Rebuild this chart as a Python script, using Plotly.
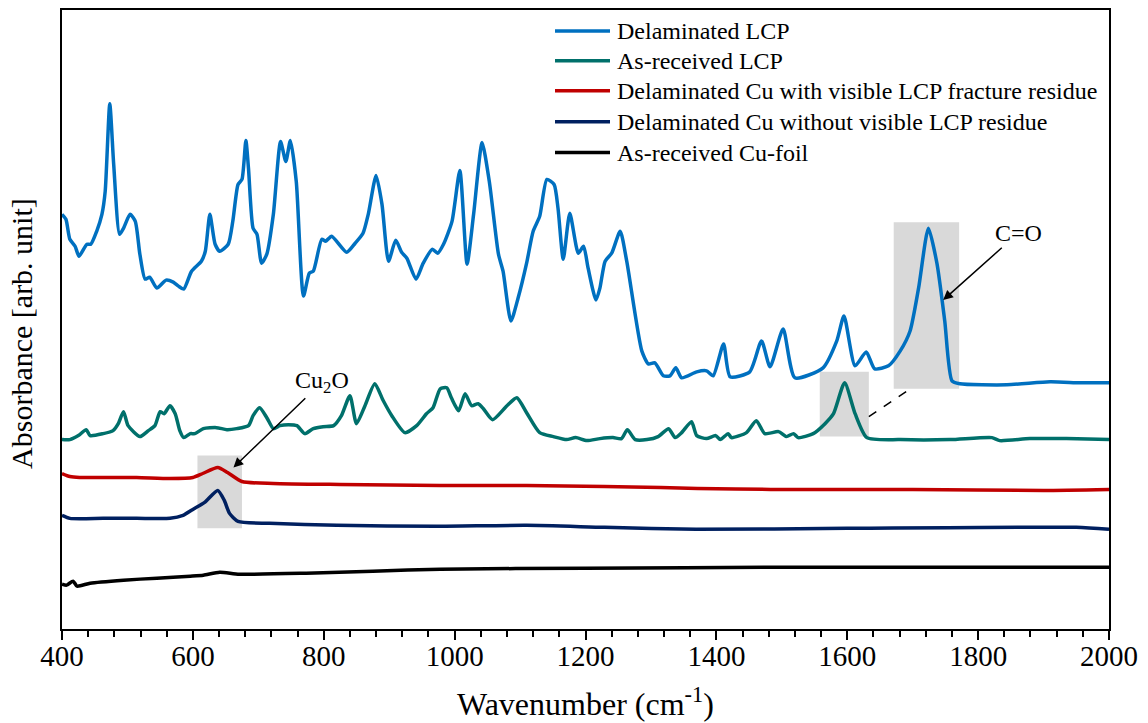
import plotly.graph_objects as go

# ---- spectra (wavenumber in cm-1, absorbance in arbitrary units, stacked) ----
wn_delam_lcp = [400, 406, 412, 420, 426, 438, 444, 453, 461, 466, 473, 479, 488, 494, 504, 512, 519, 527,
                534, 545, 559, 570, 578, 586, 598, 613, 619, 626, 634, 641, 654, 661, 669, 675, 681, 685,
                692, 698, 705, 713, 723, 734, 742, 749, 758, 769, 778, 784, 797, 803, 812, 835, 848, 860,
                868, 880, 889, 899, 910, 919, 927, 941, 952, 966, 974, 983, 996, 1008, 1019, 1029, 1042,
                1053, 1067, 1074, 1086, 1097, 1110, 1120, 1130, 1141, 1152, 1158, 1166, 1176, 1189, 1197,
                1204, 1216, 1222, 1230, 1240, 1253, 1263, 1286, 1296, 1306, 1319, 1329, 1338, 1347, 1370,
                1385, 1395, 1411, 1421, 1451, 1469, 1482, 1502, 1520, 1563, 1584, 1595, 1612, 1629, 1642,
                1663, 1681, 1696, 1709, 1724, 1737, 1749, 1760, 1772, 1844, 1910, 1956, 2000]
ab_delam_lcp = [4.16, 4.11, 3.91, 3.84, 3.74, 3.86, 3.86, 3.99, 4.16, 4.39, 5.27, 4.66, 3.96, 4.02, 4.16,
                4.09, 3.76, 3.51, 3.53, 3.42, 3.50, 3.48, 3.44, 3.41, 3.59, 3.69, 3.79, 4.16, 3.86, 3.79,
                3.86, 4.09, 4.46, 4.51, 4.90, 4.62, 4.02, 3.96, 3.67, 3.76, 4.16, 4.89, 4.69, 4.90, 4.49,
                3.34, 3.57, 3.59, 3.91, 3.89, 3.94, 3.78, 3.87, 3.97, 4.16, 4.55, 4.26, 3.69, 3.90, 3.78,
                3.72, 3.51, 3.67, 3.81, 3.77, 3.86, 4.09, 4.60, 3.66, 4.16, 4.88, 4.49, 3.76, 3.59, 3.09,
                3.32, 3.67, 3.99, 4.14, 4.51, 4.46, 4.22, 3.71, 4.17, 3.77, 3.84, 3.62, 3.30, 3.42, 3.69,
                3.77, 3.99, 3.69, 2.79, 2.66, 2.67, 2.54, 2.54, 2.62, 2.52, 2.58, 2.59, 2.54, 2.86, 2.53,
                2.58, 2.89, 2.63, 3.01, 2.52, 2.62, 2.89, 3.14, 2.64, 2.78, 2.61, 2.64, 2.79, 2.99, 3.42,
                4.02, 3.67, 3.09, 2.49, 2.46, 2.45, 2.48, 2.47, 2.47]

wn_asrec_lcp = [400, 412, 425, 437, 443, 463, 478, 486, 494, 501, 519, 532, 542, 550, 556, 565, 573, 580,
                586, 596, 603, 616, 636, 652, 667, 685, 692, 702, 713, 723, 733, 746, 759, 771, 784, 799,
                815, 827, 840, 850, 863, 878, 891, 904, 924, 942, 957, 967, 978, 988, 995, 1006, 1016,
                1026, 1036, 1044, 1058, 1080, 1095, 1110, 1130, 1151, 1171, 1185, 1202, 1222, 1242, 1255,
                1264, 1276, 1294, 1311, 1327, 1337, 1347, 1362, 1370, 1385, 1399, 1406, 1418, 1423, 1446,
                1461, 1474, 1495, 1507, 1518, 1525, 1548, 1566, 1579, 1596, 1612, 1630, 1681, 1757, 1821,
                1833, 1879, 1935, 2000]
ab_asrec_lcp = [1.90, 1.90, 1.94, 2.00, 1.94, 1.96, 1.99, 2.06, 2.18, 2.04, 1.93, 1.99, 2.04, 2.18, 2.16,
                2.24, 2.16, 1.99, 1.92, 1.96, 1.96, 2.01, 2.02, 2.00, 2.01, 2.04, 2.14, 2.22, 2.12, 2.01,
                2.04, 2.05, 2.04, 1.96, 2.01, 2.03, 2.04, 2.14, 2.34, 2.06, 2.24, 2.46, 2.29, 2.14, 1.97,
                2.04, 2.16, 2.22, 2.41, 2.42, 2.32, 2.19, 2.36, 2.24, 2.26, 2.21, 2.10, 2.24, 2.32, 2.17,
                1.97, 1.93, 1.90, 1.92, 1.89, 1.91, 1.92, 1.91, 2.00, 1.90, 1.90, 1.93, 2.01, 1.92, 1.97,
                2.08, 1.94, 1.91, 1.94, 1.90, 1.96, 1.92, 1.97, 2.09, 1.96, 1.98, 1.93, 1.96, 1.92, 1.96,
                2.06, 2.16, 2.47, 2.16, 1.92, 1.90, 1.90, 1.92, 1.89, 1.91, 1.91, 1.90]

wn_cu_residue = [400, 412, 427, 463, 514, 565, 600, 615, 638, 653, 675, 723, 825, 978, 1110, 1229, 1315,
                 1371, 1483, 1700, 1900, 2000]
ab_cu_residue = [1.56, 1.53, 1.52, 1.52, 1.52, 1.51, 1.52, 1.56, 1.62, 1.57, 1.48, 1.46, 1.45, 1.44,
                 1.44, 1.43, 1.42, 1.41, 1.40, 1.40, 1.39, 1.40]

wn_cu_clean = [400, 412, 463, 514, 565, 585, 600, 618, 638, 648, 656, 669, 717, 820, 972, 1110, 1229,
               1369, 1600, 1950, 2000]
ab_cu_clean = [1.14, 1.11, 1.11, 1.11, 1.11, 1.14, 1.20, 1.27, 1.39, 1.29, 1.16, 1.08, 1.06, 1.04, 1.03,
               1.04, 1.02, 1.00, 1.01, 1.02, 1.00]

wn_cu_foil = [400, 407, 417, 423, 443, 494, 545, 596, 616, 641, 671, 773, 875, 978, 1200, 1500, 1800, 2000]
ab_cu_foil = [0.45, 0.44, 0.48, 0.43, 0.46, 0.49, 0.51, 0.53, 0.54, 0.57, 0.55, 0.56, 0.58, 0.60, 0.61,
              0.62, 0.62, 0.62]

series_names = ["Delaminated LCP", "As-received LCP", "Delaminated Cu with visible LCP fracture residue",
                "Delaminated Cu without visible LCP residue", "As-received Cu-foil"]
series_colors = ["#0070C0", "#00706B", "#C00000", "#002060", "#000000"]
series_x = [wn_delam_lcp, wn_asrec_lcp, wn_cu_residue, wn_cu_clean, wn_cu_foil]
series_y = [ab_delam_lcp, ab_asrec_lcp, ab_cu_residue, ab_cu_clean, ab_cu_foil]
# the bottom spectrum is plotted on the tick-mark axis (same range) so that axis is drawn
series_xaxis = ["x", "x", "x", "x", "x2"]

# highlighted bands: (x0, x1, y0, y1)
bands = [(607, 675, 1.01, 1.74), (1558, 1633, 1.93, 2.58), (1671, 1771, 2.41, 4.08)]

x_ticks = list(range(400, 2001, 200))
X_RANGE = [400, 2000]
Y_MAX = 6.21
FONT = "Liberation Serif, Times New Roman, serif"

fig = go.Figure()
for name, col, xs, ys, xa in zip(series_names, series_colors, series_x, series_y, series_xaxis):
    fig.add_trace(go.Scatter(x=xs, y=ys, mode="lines", name=name, showlegend=False, xaxis=xa, yaxis="y",
                             line=dict(color=col, width=3.5, shape="spline", smoothing=0.6)))

for x0, x1, y0, y1 in bands:
    fig.add_shape(type="rect", xref="x", yref="y", x0=x0, x1=x1, y0=y0, y1=y1,
                  fillcolor="#D9D9D9", line=dict(width=0), layer="below")

# dashed connector between the two carbonyl bands
fig.add_shape(type="line", xref="x", yref="y", x0=1633, y0=2.13, x1=1694, y1=2.40,
              line=dict(color="black", width=1.5, dash="dash"))

# peak labels with arrows (label sits at the arrow tail)
fig.add_annotation(x=1746.6, y=3.30, ax=1861, ay=3.97, axref="x", ayref="y", xref="x", yref="y",
                   text="C=O", showarrow=True, arrowhead=2, arrowsize=1.3, arrowwidth=1.5,
                   arrowcolor="black", font=dict(family=FONT, size=24, color="black"))
fig.add_annotation(x=662, y=1.62, ax=798, ay=2.48, axref="x", ayref="y", xref="x", yref="y",
                   text="Cu<sub>2</sub>O", showarrow=True, arrowhead=2, arrowsize=1.3, arrowwidth=1.5,
                   arrowcolor="black", font=dict(family=FONT, size=24, color="black"))

# legend drawn as line samples + labels
legend_rows = [29, 59, 89, 120, 151]
for name, col, py in zip(series_names, series_colors, legend_rows):
    yp = (629 - py) / 621
    fig.add_shape(type="line", xref="paper", yref="paper", x0=(555 - 62) / 1047, x1=(610 - 62) / 1047,
                  y0=yp, y1=yp, line=dict(color=col, width=3.5))
    fig.add_annotation(xref="paper", yref="paper", x=(615 - 62) / 1047, y=yp, xanchor="left",
                       yanchor="middle", text=name, showarrow=False,
                       font=dict(family=FONT, size=24, color="black"))

# axis titles
fig.add_annotation(xref="paper", yref="paper", x=0.5, y=(629 - 702) / 621, xanchor="center",
                   yanchor="middle", text="Wavenumber (cm<sup>-1</sup>)", showarrow=False,
                   font=dict(family=FONT, size=32, color="black"))
fig.add_annotation(xref="paper", yref="paper", x=(22 - 62) / 1047, y=(629 - 333) / 621, xanchor="center",
                   yanchor="middle", text="Absorbance [arb. unit]", textangle=-90, showarrow=False,
                   font=dict(family=FONT, size=30, color="black"))

fig.update_layout(
    width=1148, height=723,
    margin=dict(l=62, r=39, t=8, b=94),
    paper_bgcolor="white", plot_bgcolor="white",
    showlegend=False,
    font=dict(family=FONT, color="black"),
    # labelled axis (no tick marks of its own, so labels sit close to the frame)
    xaxis=dict(range=X_RANGE, tickvals=x_ticks, ticks="", showline=True, linecolor="black", linewidth=2,
               mirror=True, showgrid=False, zeroline=False,
               tickfont=dict(family=FONT, size=29, color="black")),
    # tick-mark axis on the same range
    xaxis2=dict(range=X_RANGE, overlaying="x", anchor="y", side="bottom", tickvals=x_ticks,
                ticks="outside", ticklen=10, tickwidth=2, tickcolor="black", showticklabels=False,
                showline=False, showgrid=False, zeroline=False,
                minor=dict(dtick=40, ticks="outside", ticklen=7, tickwidth=1.5, tickcolor="black",
                           showgrid=False)),
    yaxis=dict(range=[0, Y_MAX], showticklabels=False, ticks="", showline=True, linecolor="black",
               linewidth=2, mirror=True, showgrid=False, zeroline=False),
)

fig.write_html("out.html")
